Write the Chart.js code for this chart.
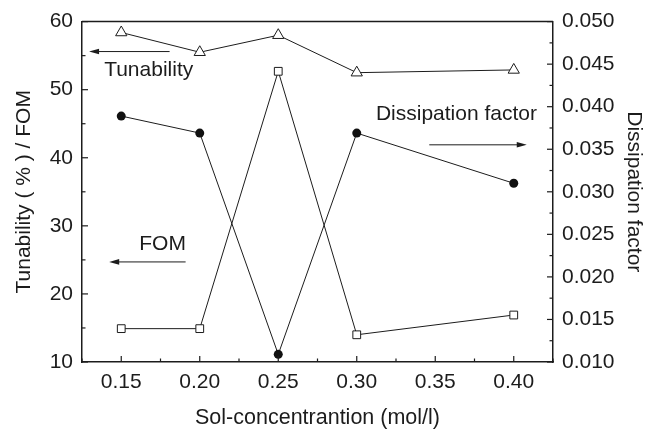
<!DOCTYPE html>
<html>
<head>
<meta charset="utf-8">
<script src="https://cdn.jsdelivr.net/npm/chart.js@4"></script>
<style>
  html, body { margin: 0; padding: 0; background: #fff; }
  #wrap { width: 654px; height: 432px; }
</style>
</head>
<body>
<div id="wrap"><canvas id="chart" width="654" height="432"></canvas></div>
<script>
// Data
const concentrations = [0.15, 0.20, 0.25, 0.30, 0.40];
const tunability = [58.4, 55.5, 58.0, 52.5, 52.9];
const fom = [14.9, 14.9, 52.7, 14.0, 16.9];
const dissipation = [0.0389, 0.0369, 0.0109, 0.0369, 0.0310];

const xTicks = [0.15, 0.20, 0.25, 0.30, 0.35, 0.40];
const leftTicks = [10, 20, 30, 40, 50, 60];
const rightTicks = [0.010, 0.015, 0.020, 0.025, 0.030, 0.035, 0.040, 0.045, 0.050];

const FONT = '"Liberation Sans", Arial, sans-serif';
const INK = '#1c1c1c';

// Inward major/minor ticks plus closing top border
const frameTicks = {
  id: 'frameTicks',
  afterDatasetsDraw(chart) {
    const { ctx, chartArea: a, scales } = chart;
    ctx.save();
    ctx.strokeStyle = INK;
    ctx.lineWidth = 1.5;
    ctx.beginPath();
    ctx.moveTo(a.left, a.top);
    ctx.lineTo(a.right, a.top);
    ctx.stroke();
    ctx.lineWidth = 1.2;
    const tick = (x1, y1, x2, y2) => { ctx.beginPath(); ctx.moveTo(x1, y1); ctx.lineTo(x2, y2); ctx.stroke(); };
    // x axis
    for (let v = 0.125; v <= 0.4251; v += 0.025) {
      const px = scales.x.getPixelForValue(v);
      const major = Math.abs(Math.round(v / 0.05) * 0.05 - v) < 1e-6;
      tick(px, a.bottom, px, a.bottom - (major ? 6 : 3.5));
    }
    // left axis
    for (let v = 10; v <= 60; v += 5) {
      const py = scales.y.getPixelForValue(v);
      tick(a.left, py, a.left + (v % 10 === 0 ? 6 : 3.5), py);
    }
    // right axis
    for (let i = 0; i <= 16; i++) {
      const v = 0.010 + i * 0.0025;
      const py = scales.y1.getPixelForValue(v);
      tick(a.right, py, a.right - (i % 2 === 0 ? 6 : 3.5), py);
    }
    ctx.restore();
  }
};

// Labels with arrows inside the plot (placed in data units)
const notes = [
  { text: 'Tunability', tx: 0.1391, ty: 52.9, align: 'left', from: 0.1808, to: 0.1295, ay: 55.6 },
  { text: 'FOM', tx: 0.1763, ty: 27.3, align: 'center', from: 0.191, to: 0.1423, ay: 24.7 },
  { text: 'Dissipation factor', tx: 0.3122, ty: 46.4, align: 'left', from: 0.3462, to: 0.4083, ay: 41.9 }
];

const arrowNotes = {
  id: 'arrowNotes',
  afterDatasetsDraw(chart) {
    const { ctx, scales } = chart;
    ctx.save();
    ctx.fillStyle = INK;
    ctx.strokeStyle = INK;
    ctx.lineWidth = 1;
    ctx.font = '21px ' + FONT;
    ctx.textBaseline = 'middle';
    notes.forEach(n => {
      ctx.textAlign = n.align;
      ctx.fillText(n.text, scales.x.getPixelForValue(n.tx), scales.y.getPixelForValue(n.ty));
      const x1 = scales.x.getPixelForValue(n.from);
      const x2 = scales.x.getPixelForValue(n.to);
      const y = scales.y.getPixelForValue(n.ay);
      const dir = Math.sign(x2 - x1);
      ctx.beginPath();
      ctx.moveTo(x1, y);
      ctx.lineTo(x2 - dir * 6, y);
      ctx.stroke();
      ctx.beginPath();
      ctx.moveTo(x2, y);
      ctx.lineTo(x2 - dir * 10, y - 2.8);
      ctx.lineTo(x2 - dir * 10, y + 2.8);
      ctx.closePath();
      ctx.fill();
    });
    ctx.restore();
  }
};

const toPoints = vals => concentrations.map((x, i) => ({ x, y: vals[i] }));

new Chart(document.getElementById('chart').getContext('2d'), {
  type: 'line',
  data: {
    datasets: [
      {
        label: 'Tunability',
        data: toPoints(tunability),
        yAxisID: 'y',
        borderColor: INK,
        borderWidth: 1,
        pointStyle: 'triangle',
        pointRadius: 6.5,
        pointBorderWidth: 1,
        pointBackgroundColor: '#fff',
        pointBorderColor: INK,
        tension: 0
      },
      {
        label: 'FOM',
        data: toPoints(fom),
        yAxisID: 'y',
        borderColor: INK,
        borderWidth: 1,
        pointStyle: 'rect',
        pointRadius: 5.5,
        pointBorderWidth: 1,
        pointBackgroundColor: '#fff',
        pointBorderColor: INK,
        tension: 0
      },
      {
        label: 'Dissipation factor',
        data: toPoints(dissipation),
        yAxisID: 'y1',
        borderColor: INK,
        borderWidth: 1,
        pointStyle: 'circle',
        pointRadius: 4.5,
        pointBorderWidth: 0,
        pointBackgroundColor: '#111',
        tension: 0
      }
    ]
  },
  options: {
    responsive: false,
    animation: false,
    layout: { padding: { top: 19, left: 0, right: 0, bottom: 0 } },
    plugins: { legend: { display: false }, tooltip: { enabled: false } },
    scales: {
      x: {
        type: 'linear',
        min: 0.125,
        max: 0.425,
        afterBuildTicks: s => { s.ticks = xTicks.map(v => ({ value: v })); },
        afterFit: s => { s.height = 70; },
        grid: { display: true, drawOnChartArea: false, drawTicks: false },
        border: { display: true, color: INK, width: 1.5 },
        ticks: { padding: 8, color: INK, font: { family: FONT, size: 21 }, callback: v => v.toFixed(2), maxRotation: 0 },
        title: { display: true, text: 'Sol-concentrantion (mol/l)', color: INK, font: { family: FONT, size: 21.5 }, padding: { top: 0, bottom: 1 } }
      },
      y: {
        position: 'left',
        min: 10,
        max: 60,
        afterBuildTicks: s => { s.ticks = leftTicks.map(v => ({ value: v })); },
        afterFit: s => { s.width = 82; },
        grid: { display: true, drawOnChartArea: false, drawTicks: false },
        border: { display: true, color: INK, width: 1.5 },
        ticks: { padding: 9, color: INK, font: { family: FONT, size: 21 } },
        title: { display: true, text: 'Tunability ( % ) / FOM', color: INK, font: { family: FONT, size: 21 }, padding: { top: 12, bottom: 0 } }
      },
      y1: {
        position: 'right',
        min: 0.010,
        max: 0.050,
        afterBuildTicks: s => { s.ticks = rightTicks.map(v => ({ value: v })); },
        afterFit: s => { s.width = 101; },
        grid: { display: true, drawOnChartArea: false, drawTicks: false },
        border: { display: true, color: INK, width: 1.5 },
        ticks: { padding: 9, color: INK, font: { family: FONT, size: 21 }, callback: v => v.toFixed(3) },
        title: { display: true, text: 'Dissipation factor', color: INK, font: { family: FONT, size: 21 }, padding: { top: 8, bottom: 0 } }
      }
    }
  },
  plugins: [frameTicks, arrowNotes]
});
</script>
</body>
</html>
